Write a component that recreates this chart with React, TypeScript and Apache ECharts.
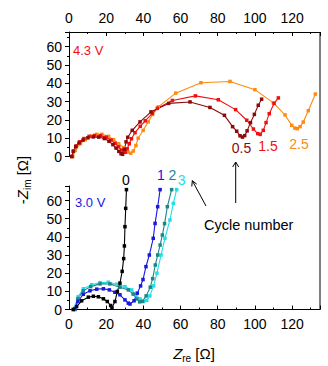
import React, { useEffect, useRef } from "react";
import * as echarts from "echarts";

// Upper panel (4.3 V), cycles 0.5, 1.5, 2.5 : [Zre, -Zim]
const cycle05: [number, number][] = [[1.5,0],[2.3,2.8],[3.6,5.3],[5.4,7.4],[7.6,9],[10.2,10.2],[13,10.7],[16,10.6],[19,9.8],[21.5,8.3],[23.6,6.5],[25.3,4.6],[26.8,2.8],[28,1.5],[28.8,1.2],[29.8,4],[30.7,8],[31.6,10.5],[34,14.3],[38.2,18.9],[44.1,24.4],[53.6,29],[65.1,29.8],[75.8,26.8],[83.6,22.5],[88,16.3],[90.2,13.8],[92,11.3],[93.3,10.6],[94.5,11.4],[95.8,14],[97.6,18.5],[99.7,23],[101.8,28],[103.6,31.3]];
const cycle15: [number, number][] = [[1.5,0],[2.4,3],[3.8,5.8],[5.7,8],[8,9.8],[10.8,11],[13.8,11.5],[17,11.4],[20,10.5],[22.6,9],[24.8,7.2],[26.7,5.3],[28.3,3.5],[29.4,2.5],[30.2,2.3],[31.3,4.2],[32.4,7],[33.6,9.7],[35.5,13],[38.3,16.5],[41,19.5],[44.8,23.5],[47.5,26.3],[55.6,30.6],[68,33.1],[80.3,31],[89.6,25.6],[95.6,19.8],[99.2,15],[101.5,12.5],[102.8,12.1],[104.5,14.3],[106,18.5],[107.7,23.4],[110.3,29],[112.6,32]];
const cycle25: [number, number][] = [[2,0],[3.4,3.3],[6.1,7],[8.8,9.2],[12,11.2],[15,12.1],[17.7,12.1],[21.3,11],[24,9.2],[26.7,7],[29.4,4.8],[31.7,2.4],[33.2,1.8],[34.6,3],[36,6],[37.2,10],[39.9,14.3],[42.6,18.9],[45,23],[48,27.1],[57.4,34.6],[71,40.3],[86.6,41],[100,36.5],[109.9,29.3],[116.2,22.7],[119.8,17],[121.5,15.5],[122.8,15.2],[124.3,16.3],[126,18.8],[128.7,25],[132.5,34.1]];

// Lower panel (3.0 V), cycles 0, 1, 2, 3
const cycle0: [number, number][] = [[2.3,0],[4.1,1.6],[6.8,4.8],[10.4,6.8],[13.1,7.3],[15.8,7],[18.5,5.9],[20.6,4.4],[22.4,2.2],[23.1,0.9],[24.7,4.4],[26,9.9],[27.4,14.5],[28.6,21],[29.4,28],[29.8,35],[30.1,45.6],[30.5,55.7],[30.9,66]];
const cycle1: [number, number][] = [[3.2,0.5],[4.8,4.5],[7.7,8.4],[11.3,10.3],[14.9,11.2],[18.5,11.4],[21.7,10.8],[24.7,9.5],[27.4,8.1],[30.1,5.3],[31.9,3.5],[32.8,3],[35,4.8],[36.7,9],[38.5,13],[39.8,16.5],[41.4,23.6],[43.2,30],[45.3,39.2],[46.3,47.4],[47.7,56.6],[49,66]];
const cycle2: [number, number][] = [[3.2,0],[4.8,6],[7.7,10.3],[11.7,12.6],[16.7,14.1],[22,14.1],[27.4,12.3],[31.9,10.8],[34.5,8.5],[36.5,5.8],[38,4.2],[39.5,4.5],[41.5,7.5],[43.7,12.3],[45,17],[46.4,24.5],[47.7,30],[49,35.5],[50.2,41],[51.4,47.3],[52.9,56.6],[55.2,66]];
const cycle3: [number, number][] = [[2.3,0],[5,7.1],[7.7,11.4],[12.2,13.6],[16.7,14.8],[21.1,15],[25.6,13.9],[30.1,12.6],[33.7,10.8],[36,8],[38.2,5.8],[40,4.4],[41.8,5],[43.5,7.5],[45.5,13],[47.3,20],[49.5,30],[51.6,39.2],[54.3,49.3],[56.1,58.4],[57.9,66]];

const xTickStep = 20;
const yTickStep = 10;

const FONT = "'Liberation Sans', Arial, sans-serif";

const COL = {
  c05: "#8B0A0A",
  c15: "#F01010",
  c25: "#FF8A10",
  c0: "#000000",
  c1: "#1818E0",
  c2: "#1E8585",
  c3: "#22DDE6",
};

function mkSeries(name: string, data: [number, number][], color: string, idx: number) {
  return {
    name,
    type: "line",
    xAxisIndex: idx,
    yAxisIndex: idx,
    data,
    symbol: "rect",
    symbolSize: 3.5,
    showSymbol: true,
    lineStyle: { color, width: 1.1 },
    itemStyle: { color },
    clip: false,
  };
}

export default function App() {
  const ref = useRef<HTMLDivElement>(null);
  useEffect(() => {
    if (!ref.current) return;
    const chart = echarts.init(ref.current, undefined, { renderer: "svg" });
    const xAxisCommon = (pos: "top" | "bottom", grid: number) => ({
      type: "value",
      gridIndex: grid,
      position: pos,
      min: 0,
      max: 135,
      interval: xTickStep,
      axisLine: { show: true, onZero: false, lineStyle: { color: "#000", width: 1 } },
      axisTick: { show: true, inside: true, length: 4, lineStyle: { color: "#000" } },
      minorTick: { show: true, splitNumber: 2, length: 2, lineStyle: { color: "#000" } },
      axisLabel: {
        show: true,
        margin: 7,
        color: "#000",
        fontSize: 14,
        fontFamily: FONT,
        formatter: (v: number) => (v % xTickStep === 0 ? String(v) : ""),
      },
      splitLine: { show: false },
    });
    const yAxisCommon = (grid: number) => ({
      type: "value",
      gridIndex: grid,
      min: 0,
      max: 68,
      interval: yTickStep,
      axisLine: { show: true, onZero: false, lineStyle: { color: "#000", width: 1 } },
      axisTick: { show: true, inside: false, length: 4, lineStyle: { color: "#000" } },
      minorTick: { show: true, splitNumber: 2, length: 2, lineStyle: { color: "#000" } },
      axisLabel: {
        show: true,
        margin: 7,
        color: "#000",
        fontSize: 14,
        fontFamily: FONT,
        formatter: (v: number) => (v % yTickStep === 0 ? String(v) : ""),
      },
      splitLine: { show: false },
    });
    const txt = (text: string, x: number, y: number, color: string, size = 14, align = "center") => ({
      type: "text",
      x,
      y,
      style: { text, fill: color, font: `${size}px ${FONT}`, align, verticalAlign: "middle" },
    });
    chart.setOption({
      animation: false,
      backgroundColor: "#fff",
      grid: [
        { left: 69, width: 251, top: 32, height: 124.5 },
        { left: 69, width: 251, top: 186, height: 123.5 },
      ],
      xAxis: [xAxisCommon("top", 0), xAxisCommon("bottom", 1)],
      yAxis: [yAxisCommon(0), yAxisCommon(1)],
      series: [
        mkSeries("2.5", cycle25, COL.c25, 0),
        mkSeries("1.5", cycle15, COL.c15, 0),
        mkSeries("0.5", cycle05, COL.c05, 0),
        mkSeries("3", cycle3, COL.c3, 1),
        mkSeries("2", cycle2, COL.c2, 1),
        mkSeries("1", cycle1, COL.c1, 1),
        mkSeries("0", cycle0, COL.c0, 1),
      ],
      graphic: [
        { type: "line", shape: { x1: 320, y1: 32, x2: 320, y2: 309.5 }, style: { stroke: "#000", lineWidth: 1 } },
        txt("4.3 V", 73, 50, "#F01010", 13, "left"),
        txt("3.0 V", 75, 202, "#1818E0", 13, "left"),
        txt("0.5", 241.5, 148, COL.c05),
        txt("1.5", 268, 146, COL.c15),
        txt("2.5", 299, 143.5, COL.c25),
        txt("0", 126, 180, COL.c0),
        txt("1", 161, 175, COL.c1),
        txt("2", 172.3, 175, COL.c2),
        txt("3", 181.7, 180, COL.c3),
        txt("Cycle number", 204, 225, "#000", 14.5, "left"),
        // vertical arrow
        { type: "line", shape: { x1: 235.7, y1: 203, x2: 235.7, y2: 162 }, style: { stroke: "#000", lineWidth: 1 } },
        { type: "polyline", shape: { points: [[232.7, 167], [235.7, 162], [238.7, 167]] }, style: { stroke: "#000", lineWidth: 1, fill: "none" } },
        // diagonal arrow
        { type: "line", shape: { x1: 206, y1: 206, x2: 192.3, y2: 180.7 }, style: { stroke: "#000", lineWidth: 1 } },
        { type: "polyline", shape: { points: [[191.8, 186.5], [192.3, 180.7], [196.8, 184.2]] }, style: { stroke: "#000", lineWidth: 1, fill: "none" } },
        // axis titles
        {
          type: "text",
          x: 22,
          y: 180,
          rotation: Math.PI / 2,
          style: {
            text: "{n|-}{z|Z}{s|im}{n| [Ω]}",
            align: "center",
            verticalAlign: "middle",
            fill: "#000",
            rich: {
              n: { fontSize: 15, fontFamily: FONT, lineHeight: 20, fill: "#000" },
              z: { fontSize: 15, fontFamily: FONT, fontStyle: "italic", lineHeight: 20, fill: "#000" },
              s: { fontSize: 10, fontFamily: FONT, lineHeight: 10, verticalAlign: "bottom", fill: "#000" },
            },
          },
        },
        {
          type: "text",
          x: 194,
          y: 353,
          style: {
            text: "{z|Z}{s|re}{n| [Ω]}",
            align: "center",
            verticalAlign: "middle",
            fill: "#000",
            rich: {
              n: { fontSize: 15, fontFamily: FONT, lineHeight: 20, fill: "#000" },
              z: { fontSize: 15, fontFamily: FONT, fontStyle: "italic", lineHeight: 20, fill: "#000" },
              s: { fontSize: 10, fontFamily: FONT, lineHeight: 10, verticalAlign: "bottom", fill: "#000" },
            },
          },
        },
      ],
    });
    return () => chart.dispose();
  }, []);
  return (
    <div
      ref={ref}
      style={{ position: "absolute", left: 0, top: 0, width: 328, height: 366, background: "#fff" }}
    />
  );
}
